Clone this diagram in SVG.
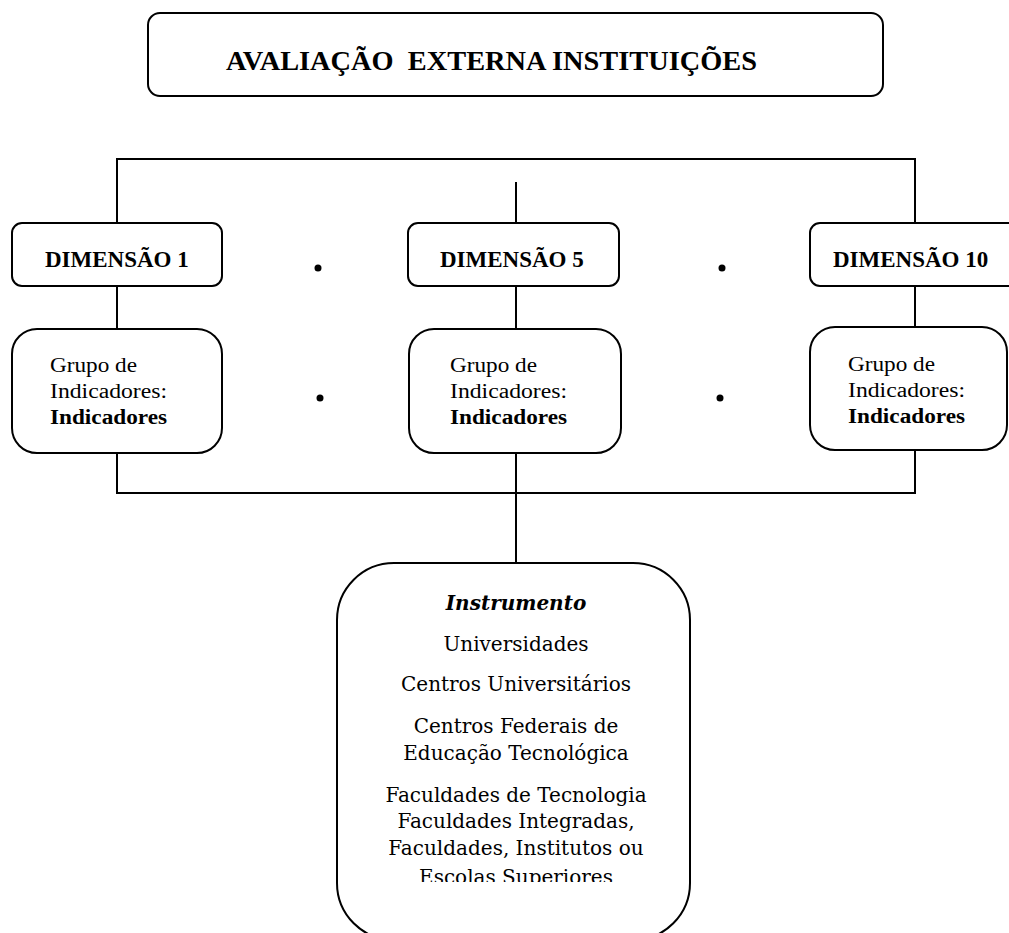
<svg xmlns="http://www.w3.org/2000/svg" width="1009" height="933" viewBox="0 0 1009 933">
<style>
.box{fill:#fff;stroke:#000;stroke-width:2}
.ln{fill:none;stroke:#000;stroke-width:2}
.title{font-family:"Liberation Serif","Times New Roman",serif;font-weight:bold;font-size:28px;fill:#000}
.dim{font-family:"Liberation Serif","Times New Roman",serif;font-weight:bold;font-size:23px;fill:#000}
.grp{font-family:"Liberation Serif","Times New Roman",serif;font-size:20px;fill:#000}
.grpb{font-family:"Liberation Serif","Times New Roman",serif;font-size:20px;font-weight:bold;fill:#000}
.ins{font-family:"DejaVu Serif","Liberation Serif",serif;font-size:20px;fill:#000;text-anchor:middle}
.insb{font-family:"DejaVu Serif","Liberation Serif",serif;font-size:20px;font-weight:bold;font-style:italic;fill:#000;text-anchor:middle}
</style>
<defs>
<clipPath id="cut"><rect x="330" y="560" width="370" height="322"/></clipPath>
</defs>
<rect width="1009" height="933" fill="#fff"/>
<g id="connectors">
<polyline class="ln" points="117,223 117,159 915,159 915,223"/>
<line class="ln" x1="516" y1="182" x2="516" y2="223"/>
<line class="ln" x1="117" y1="286" x2="117" y2="329"/>
<line class="ln" x1="516" y1="286" x2="516" y2="329"/>
<line class="ln" x1="915" y1="286" x2="915" y2="327"/>
<polyline class="ln" points="117,453 117,493 915,493 915,450"/>
<line class="ln" x1="516" y1="453" x2="516" y2="563"/>
</g>
<g id="title">
<rect class="box" x="148" y="13" width="735" height="83" rx="12"/>
<text class="title" x="226" y="70" xml:space="preserve" textLength="531" lengthAdjust="spacingAndGlyphs">AVALIAÇÃO  EXTERNA INSTITUIÇÕES</text>
</g>
<g id="dim1">
<rect class="box" x="12" y="223" width="210" height="63" rx="10"/>
<text class="dim" x="45" y="267">DIMENSÃO 1</text>
</g>
<g id="dim5">
<rect class="box" x="408" y="223" width="211" height="63" rx="10"/>
<text class="dim" x="440" y="267">DIMENSÃO 5</text>
</g>
<g id="dim10">
<rect class="box" x="810" y="223" width="230" height="63" rx="10"/>
<text class="dim" x="833" y="267">DIMENSÃO 10</text>
</g>
<g id="dots">
<circle cx="318" cy="268" r="3.5"/>
<circle cx="722" cy="268" r="3.5"/>
<circle cx="320" cy="398" r="3.5"/>
<circle cx="720" cy="398" r="3.5"/>
</g>
<g id="grupo1">
<rect class="box" x="12" y="329" width="210" height="124" rx="25"/>
<text class="grp" x="50" y="372" textLength="87" lengthAdjust="spacingAndGlyphs">Grupo de</text>
<text class="grp" x="50" y="398" textLength="117" lengthAdjust="spacingAndGlyphs">Indicadores:</text>
<text class="grpb" x="50" y="424" textLength="117" lengthAdjust="spacingAndGlyphs">Indicadores</text>
</g>
<g id="grupo5">
<rect class="box" x="409" y="329" width="212" height="124" rx="25"/>
<text class="grp" x="450" y="372" textLength="87" lengthAdjust="spacingAndGlyphs">Grupo de</text>
<text class="grp" x="450" y="398" textLength="117" lengthAdjust="spacingAndGlyphs">Indicadores:</text>
<text class="grpb" x="450" y="424" textLength="117" lengthAdjust="spacingAndGlyphs">Indicadores</text>
</g>
<g id="grupo10">
<rect class="box" x="810" y="327" width="197" height="123" rx="25"/>
<text class="grp" x="848" y="371" textLength="87" lengthAdjust="spacingAndGlyphs">Grupo de</text>
<text class="grp" x="848" y="397" textLength="117" lengthAdjust="spacingAndGlyphs">Indicadores:</text>
<text class="grpb" x="848" y="423" textLength="117" lengthAdjust="spacingAndGlyphs">Indicadores</text>
</g>
<g id="instrumento">
<rect class="box" x="337" y="563" width="353" height="377" rx="57"/>
<text class="insb" x="516" y="610">Instrumento</text>
<text class="ins" x="516" y="651">Universidades</text>
<text class="ins" x="516" y="691">Centros Universitários</text>
<text class="ins" x="516" y="733">Centros Federais de</text>
<text class="ins" x="516" y="760">Educação Tecnológica</text>
<text class="ins" x="516" y="802">Faculdades de Tecnologia</text>
<text class="ins" x="516" y="828">Faculdades Integradas,</text>
<text class="ins" x="516" y="855">Faculdades, Institutos ou</text>
<text class="ins" x="516" y="884" clip-path="url(#cut)">Escolas Superiores</text>
</g>
</svg>
